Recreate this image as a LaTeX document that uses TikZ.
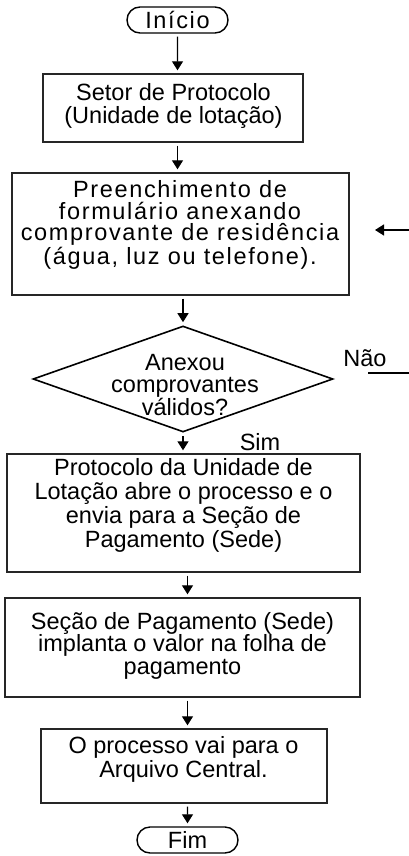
\documentclass[tikz,border=0pt]{standalone}
\usepackage{fontspec}
\setmainfont{Liberation Sans}
\newfontfamily\wideface[LetterSpace=7]{Liberation Sans}
\usetikzlibrary{shapes.geometric,shapes.misc,arrows.meta}

\tikzset{
  box/.style={draw=black!85, line width=1.4pt, rectangle, inner sep=0pt},
  term/.style={draw=black, line width=1.4pt, rounded rectangle, inner sep=0pt, minimum width=101pt, minimum height=26pt, font=\fontsize{23.5}{23.5}\selectfont},
  decision/.style={draw=black, line width=1.6pt, diamond, inner sep=0pt},
  txt/.style={align=center, inner sep=0pt, font=\fontsize{23.5}{23.5}\selectfont},
  flow/.style={-{Triangle[width=11pt,length=9pt]}, line width=1.3pt, shorten <=3pt, shorten >=3pt},
}

\begin{document}
\begin{tikzpicture}[x=1pt,y=1pt]

    \useasboundingbox (0,0) rectangle (408,-856);

    \node[term] (start) at (177.5,-20) {\wideface Início};
    \node[term] (fim) at (187.5,-840) {Fim};

    \node[box, minimum width=260pt, minimum height=68pt] (proto) at (173,-108) {};
    \node[box, minimum width=337pt, minimum height=122pt] (form) at (180.5,-234) {};
    \node[decision, minimum width=300pt, minimum height=106pt] (dec) at (183,-379) {};
    \node[box, minimum width=353pt, minimum height=118pt] (open) at (183.5,-513) {};
    \node[box, minimum width=355pt, minimum height=99pt] (pay) at (182.5,-647.5) {};
    \node[box, minimum width=286pt, minimum height=74pt] (arq) at (184,-766) {};

    \node[txt] (protot) at (173.5,-106) {Setor de Protocolo\\(Unidade de lotação)};
    \node[txt, font=\fontsize{23.5}{21.5}\wideface] (formt) at (180,-225) {Preenchimento de\\formulário anexando\\comprovante de residência\\(água, luz ou telefone).};
    \node[txt, font=\fontsize{23.5}{22}\selectfont] (dect) at (185,-385) {Anexou\\comprovantes\\válidos?};
    \node[txt, font=\fontsize{23.5}{24}\selectfont] (opent) at (183.5,-505) {Protocolo da Unidade de\\Lotação abre o processo e o\\envia para a Seção de\\Pagamento (Sede)};
    \node[txt, font=\fontsize{23.5}{22.5}\selectfont] (payt) at (182.5,-645.5) {Seção de Pagamento (Sede)\\implanta o valor na folha de\\pagamento};
    \node[txt, font=\fontsize{23.5}{24}\selectfont] (arqt) at (183.5,-759.5) {O processo vai para o\\Arquivo Central.};

    \node[txt] (nao) at (365,-358) {Não};
    \node[txt] (sim) at (260,-442) {Sim};

    \draw[flow] (start) -- (start |- proto.north);
    \draw[flow] (proto.south -| start) -- (start |- form.north);
    \draw[flow] (form.south -| dec) -- (dec.north);
    \draw[flow] (dec.south) -- (dec.south |- open.north);
    \draw[flow] (open.south -| fim) -- (fim |- pay.north);
    \draw[flow] (pay.south -| fim) -- (fim |- arq.north);
    \draw[flow] (arq.south -| fim) -- (fim);

    \coordinate (backin) at (410,-230);
    \coordinate (backtip) at (375,-230);
    \draw[flow, shorten <=0pt, shorten >=0pt] (backin) -- (backtip);

    \coordinate (naoA) at (368,-373);
    \coordinate (naoB) at (410,-373);
    \draw[line width=1.3pt] (naoA) -- (naoB);

\end{tikzpicture}
\end{document}
